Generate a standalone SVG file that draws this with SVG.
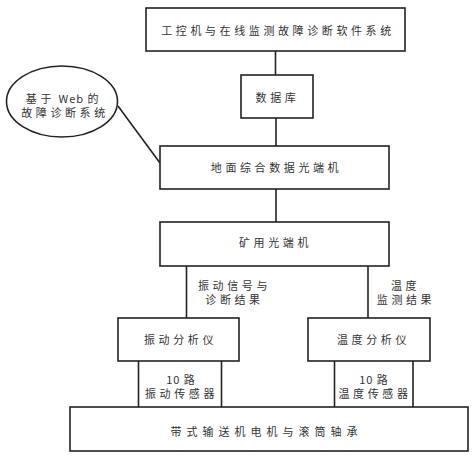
<svg xmlns="http://www.w3.org/2000/svg" width="474" height="456" viewBox="0 0 474 456">
<style>
.b{fill:#fff;stroke:#222;stroke-width:1.6}
.c line,.c path{stroke:#222;stroke-width:1.6;fill:none}
text{font-family:"Noto Sans CJK SC","Liberation Serif",serif;font-size:11px;fill:#333;text-anchor:middle;dominant-baseline:central;letter-spacing:3.6px}
.w{letter-spacing:1px}
</style>
<rect width="474" height="456" fill="#fff"/>
<g class="c" id="connectors">
<line x1="275.5" y1="51" x2="275.5" y2="75"/>
<line x1="276" y1="118" x2="276" y2="146"/>
<line x1="276" y1="189" x2="276" y2="222"/>
<line x1="186.5" y1="266" x2="186.5" y2="318"/>
<line x1="368" y1="266" x2="368" y2="318"/>
<line x1="138.5" y1="361" x2="138.5" y2="407"/>
<line x1="221.5" y1="361" x2="221.5" y2="407"/>
<line x1="334.5" y1="361" x2="334.5" y2="407"/>
<line x1="413" y1="361" x2="413" y2="407"/>
<line x1="118" y1="106" x2="160" y2="163"/>
</g>
<g id="n1"><rect class="b" x="146" y="8" width="259" height="43"/><text x="278" y="30">工控机与在线监测故障诊断软件系统</text></g>
<g id="n2"><rect class="b" x="241" y="75" width="72" height="43"/><text x="277.5" y="97">数据库</text></g>
<g id="web"><ellipse class="b" cx="62" cy="101.5" rx="55.5" ry="35.5"/><text x="64" y="98"><tspan>基于</tspan><tspan class="w"> Web </tspan><tspan>的</tspan></text><text x="65" y="112">故障诊断系统</text></g>
<g id="n3"><rect class="b" x="160" y="146" width="229" height="43"/><text x="276.5" y="167">地面综合数据光端机</text></g>
<g id="n4"><rect class="b" x="160" y="222" width="229" height="44"/><text x="275.5" y="242">矿用光端机</text></g>
<g id="l1"><text x="234.5" y="285">振动信号与</text><text x="234.5" y="299">诊断结果</text></g>
<g id="l2"><text x="405.5" y="285">温度</text><text x="406" y="299">监测结果</text></g>
<g id="n5"><rect class="b" x="118" y="318" width="121" height="43"/><text x="180.5" y="339">振动分析仪</text></g>
<g id="n6"><rect class="b" x="308" y="318" width="122" height="43"/><text x="373.5" y="339">温度分析仪</text></g>
<g id="s1"><text x="181" y="379" class="w">10 路</text><text x="181.5" y="393">振动传感器</text></g>
<g id="s2"><text x="374" y="379" class="w">10 路</text><text x="375" y="393">温度传感器</text></g>
<g id="n7"><rect class="b" x="70" y="407" width="398" height="44"/><text x="266.5" y="431" style="letter-spacing:5px">带式输送机电机与滚筒轴承</text></g>
</svg>
